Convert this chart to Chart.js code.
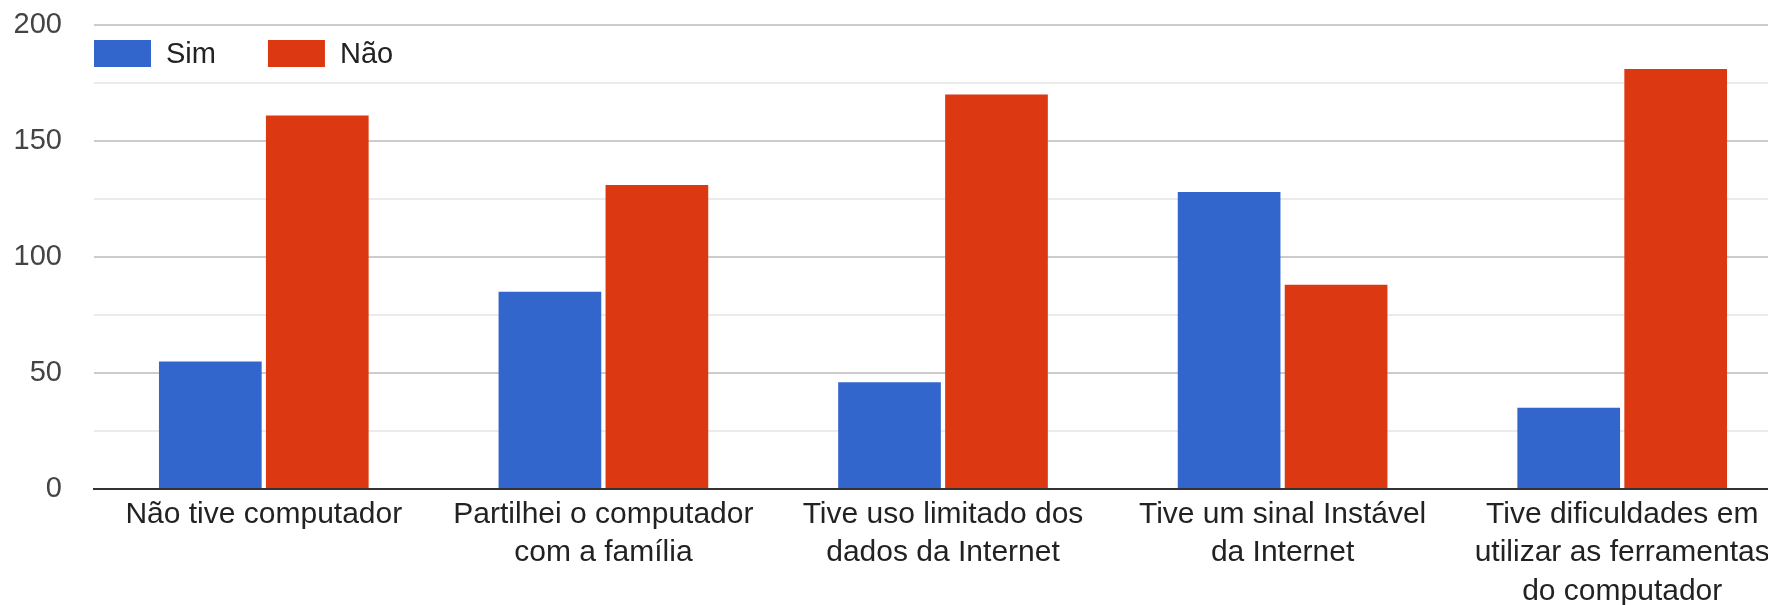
<!DOCTYPE html>
<html>
<head>
<meta charset="utf-8">
<script src="https://cdn.jsdelivr.net/npm/chart.js@4/dist/chart.umd.min.js"></script>
<style>
  html, body { margin: 0; padding: 0; background: #fff; overflow: hidden; }
  #wrap { width: 1800px; height: 605px; }
</style>
</head>
<body>
<div id="wrap"><canvas id="chart" width="1800" height="605"></canvas></div>
<script>
const categories = [
    "Não tive computador",
    ["Partilhei o computador", "com a família"],
    ["Tive uso limitado dos", "dados da Internet"],
    ["Tive um sinal Instável", "da Internet"],
    ["Tive dificuldades em", "utilizar as ferramentas", "do computador"]
];
const simValues = [55, 85, 46, 128, 35];
const naoValues = [161, 131, 170, 88, 181];
const seriesNames = ["Sim", "Não"];
const seriesColors = ["#3366cc", "#dc3912"];
const yTicks = [0, 50, 100, 150, 200];

const FONT = "Arial, 'Liberation Sans', sans-serif";

// legend drawn inside the plot area, top-left (like the original)
const insideLegend = {
    id: "insideLegend",
    afterDraw(chart) {
        const ctx = chart.ctx;
        const area = chart.chartArea;
        let x = area.left;
        const cy = area.top + 28.5;
        ctx.save();
        ctx.font = "29px " + FONT;
        ctx.textBaseline = "middle";
        ctx.textAlign = "left";
        chart.data.datasets.forEach(ds => {
            ctx.fillStyle = ds.backgroundColor;
            ctx.fillRect(x, cy - 13.5, 57, 27);
            ctx.fillStyle = "#222";
            ctx.fillText(ds.label, x + 72, cy + 1);
            x += 72 + ctx.measureText(ds.label).width + 52;
        });
        ctx.restore();
    }
};

new Chart(document.getElementById("chart"), {
    type: "bar",
    data: {
        labels: categories,
        datasets: [
            { label: seriesNames[0], data: simValues, backgroundColor: seriesColors[0] },
            { label: seriesNames[1], data: naoValues, backgroundColor: seriesColors[1] }
        ]
    },
    options: {
        responsive: false,
        devicePixelRatio: 1,
        animation: false,
        layout: { padding: { left: 13, right: 8, top: 0, bottom: 0 } },
        plugins: {
            legend: { display: false },
            tooltip: { enabled: false }
        },
        datasets: {
            bar: { categoryPercentage: 0.63, barPercentage: 0.96 }
        },
        scales: {
            x: {
                grid: { display: false, drawTicks: false, tickLength: 0 },
                border: { display: true, color: "#333", width: 2 },
                ticks: {
                    autoSkip: false,
                    maxRotation: 0,
                    padding: 7,
                    color: "#222",
                    font: { family: FONT, size: 30, lineHeight: 1.27 }
                },
                afterFit(s) { s.paddingLeft = 0; s.paddingRight = 0; s.height = 116; }
            },
            y: {
                min: 0,
                max: 200,
                border: { display: false },
                grid: {
                    drawTicks: false,
                    color: c => (c.tick.value % 50 === 0 ? "#cccccc" : "#ebebeb"),
                    lineWidth: 2
                },
                ticks: {
                    stepSize: 25,
                    padding: 32,
                    color: "#444",
                    font: { family: FONT, size: 29 },
                    callback: v => (yTicks.includes(v) ? v : "")
                },
                afterFit(s) { s.width = 81; s.paddingTop = 25; s.paddingBottom = 0; }
            }
        }
    },
    plugins: [insideLegend]
});
</script>
</body>
</html>
